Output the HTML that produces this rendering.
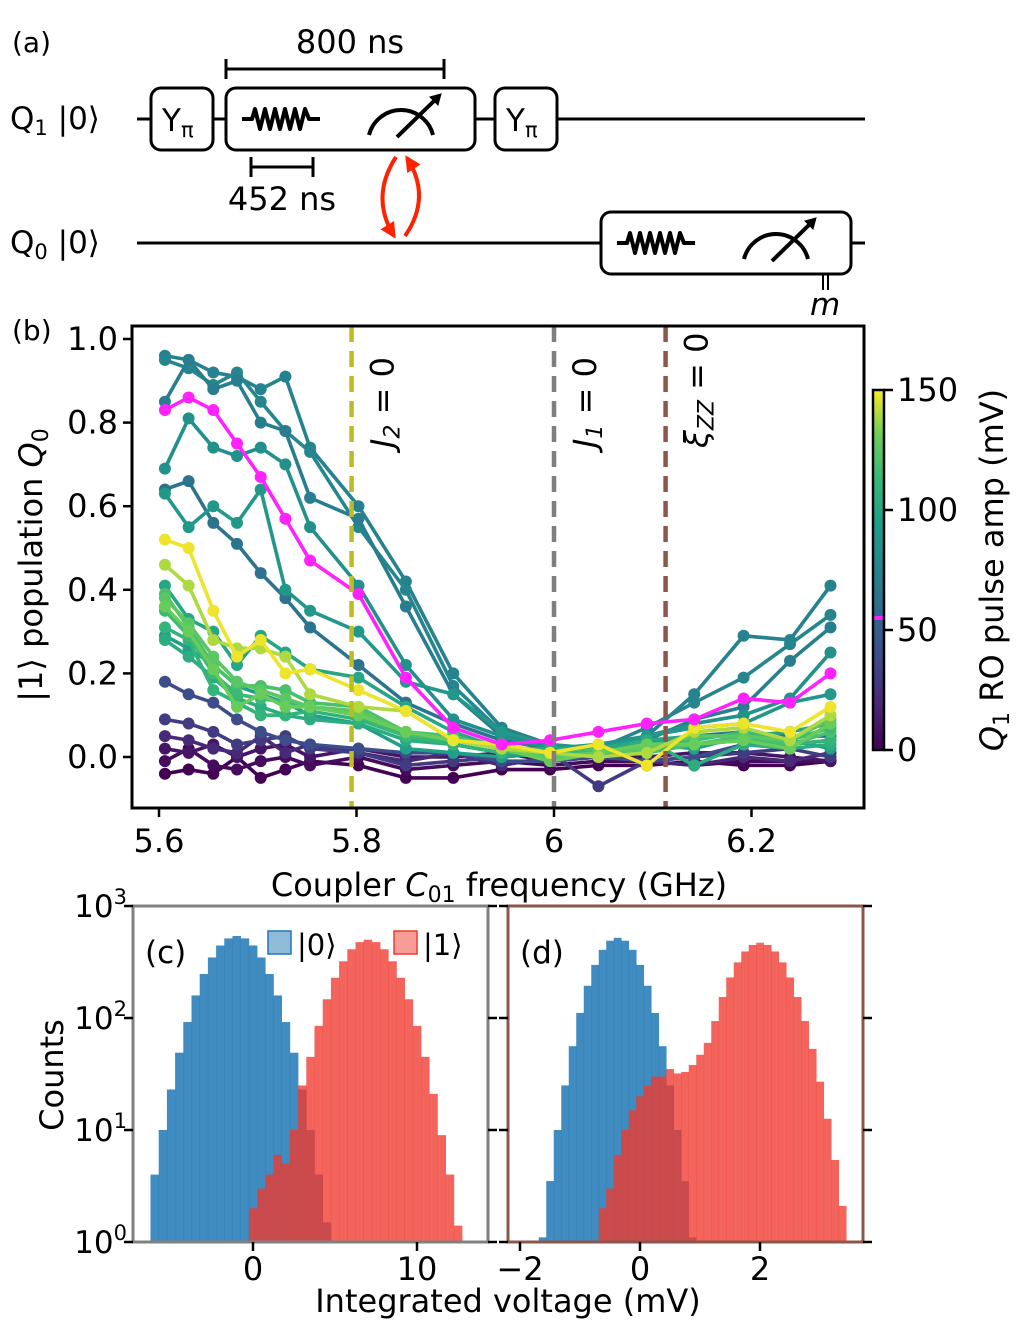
<!DOCTYPE html>
<html><head><meta charset="utf-8"><style>
html,body{margin:0;padding:0;background:#fff;}
svg{display:block;font-family:"DejaVu Sans","Liberation Sans",sans-serif;}
</style></head><body>
<svg id="fig" width="1017" height="1320" viewBox="0 0 1017 1320" xmlns="http://www.w3.org/2000/svg">
<defs>
<linearGradient id="vir" x1="0" y1="1" x2="0" y2="0">
<stop offset="0" stop-color="#440154"/><stop offset="0.13" stop-color="#482878"/><stop offset="0.25" stop-color="#3e4989"/><stop offset="0.38" stop-color="#31688e"/><stop offset="0.5" stop-color="#26828e"/><stop offset="0.63" stop-color="#1f9e89"/><stop offset="0.75" stop-color="#35b779"/><stop offset="0.88" stop-color="#6ece58"/><stop offset="1" stop-color="#fde725"/>
</linearGradient>
<marker id="ah" viewBox="0 0 10 10" refX="8" refY="5" markerWidth="4" markerHeight="4" orient="auto"><path d="M0,0 L10,5 L0,10 z" fill="#ff2200"/></marker>
</defs>

<g stroke="#000" fill="none" stroke-width="3">
<text x="12" y="52" font-size="28" fill="#000" stroke="none">(a)</text>
<text x="10" y="129" font-size="31" fill="#000" stroke="none">Q<tspan font-size="21" dy="6">1</tspan><tspan dy="-6"> |0⟩</tspan></text>
<text x="10" y="253" font-size="31" fill="#000" stroke="none">Q<tspan font-size="21" dy="6">0</tspan><tspan dy="-6"> |0⟩</tspan></text>
<line x1="137" y1="119" x2="865" y2="119"/>
<line x1="137" y1="243" x2="865" y2="243"/>
<rect x="151" y="88" width="62" height="62" rx="10" fill="#fff"/>
<text x="162" y="131" font-size="31" fill="#000" stroke="none">Y<tspan font-size="21" dy="6">π</tspan></text>
<rect x="226" y="88" width="249" height="62" rx="10" fill="#fff"/>
<rect x="495" y="88" width="62" height="62" rx="10" fill="#fff"/>
<text x="506" y="131" font-size="31" fill="#000" stroke="none">Y<tspan font-size="21" dy="6">π</tspan></text>
<rect x="601" y="212" width="250" height="62" rx="10" fill="#fff"/>
<path d="M242,119 H252 L255,109 L260,129 L265,109 L270,129 L275,109 L280,129 L285,109 L290,129 L295,109 L300,129 L305,109 L309,119 H320" stroke-width="4" stroke-linejoin="round"/>
<path d="M617,243 H627 L630,233 L635,253 L640,233 L645,253 L650,233 L655,253 L660,233 L665,253 L670,233 L675,253 L680,233 L684,243 H695" stroke-width="4" stroke-linejoin="round"/>
<path d="M369,135 A33,33 0 0 1 433,135" stroke-width="4"/>
<line x1="397" y1="137" x2="436" y2="99" stroke-width="4"/><path d="M430,97 L441,94 L438,105 z" fill="#000" stroke-width="1"/>
<path d="M744,259 A33,33 0 0 1 808,259" stroke-width="4"/>
<line x1="772" y1="261" x2="811" y2="223" stroke-width="4"/><path d="M805,221 L816,218 L813,229 z" fill="#000" stroke-width="1"/>
<line x1="823" y1="274" x2="823" y2="290" stroke-width="2"/><line x1="828" y1="274" x2="828" y2="290" stroke-width="2"/>
<text x="810" y="315" font-size="31" font-style="italic" fill="#000" stroke="none">m</text>
<line x1="226" y1="69" x2="444" y2="69"/><line x1="226" y1="59" x2="226" y2="79"/><line x1="444" y1="59" x2="444" y2="79"/>
<text x="350" y="53" font-size="32" text-anchor="middle" fill="#000" stroke="none">800 ns</text>
<line x1="251" y1="167" x2="313" y2="167"/><line x1="251" y1="157" x2="251" y2="177"/><line x1="313" y1="157" x2="313" y2="177"/>
<text x="282" y="210" font-size="32" text-anchor="middle" fill="#000" stroke="none">452 ns</text>
<path d="M396,157 Q370,197 394,236" stroke="#ff2200" stroke-width="4" marker-end="url(#ah)"/>
<path d="M405,236 Q432,197 407,158" stroke="#ff2200" stroke-width="4" marker-end="url(#ah)"/>
</g>

<text x="12" y="340" font-size="28">(b)</text>
<g id="pb"></g>
<g id="cb"></g>
<g id="pc"></g>
<g id="pd"></g>
<text x="508" y="1312" font-size="32" text-anchor="middle">Integrated voltage (mV)</text>
<text transform="translate(63,1075) rotate(-90)" font-size="32" text-anchor="middle">Counts</text>
</svg>
<script>
const freqs=[5.606,5.630,5.655,5.679,5.703,5.728,5.753,5.802,5.850,5.898,5.947,5.996,6.045,6.094,6.142,6.192,6.239,6.280];
const amps=[0,5,10,20,30,40,65,75,78,72,85,90,100,95,105,110,120,115,125,130,140,148,55];
const s0=[-0.04,-0.03,-0.04,0.00,-0.05,-0.03,-0.01,-0.02,-0.05,-0.05,-0.03,-0.03,-0.02,-0.02,-0.01,-0.02,-0.02,-0.01];
const s1=[-0.01,0.02,-0.02,-0.03,-0.01,0.00,-0.02,0.00,-0.03,-0.02,-0.01,-0.02,-0.01,-0.01,-0.02,-0.01,-0.01,-0.01];
const s2=[0.02,0.01,0.03,0.00,0.02,0.03,0.00,0.02,0.00,0.00,0.01,-0.01,0.00,0.00,0.01,0.01,0.00,-0.01];
const s3=[0.05,0.04,0.02,0.01,0.05,0.01,0.03,0.01,-0.01,0.01,-0.02,0.00,0.01,-0.01,-0.02,0.00,-0.01,0.01];
const s4=[0.09,0.08,0.06,0.03,0.04,0.05,0.02,0.01,-0.02,-0.01,0.00,0.01,-0.07,-0.01,0.00,0.01,0.02,0.00];
const s5=[0.18,0.15,0.13,0.09,0.06,0.04,0.03,0.02,0.01,0.01,-0.01,-0.01,0.00,-0.01,0.00,0.03,0.03,0.04];
const s6=[0.64,0.66,0.56,0.51,0.44,0.38,0.31,0.22,0.13,0.08,0.04,0.02,0.00,0.03,0.05,0.06,0.05,0.05];
const s7=[0.96,0.95,0.92,0.91,0.88,0.91,0.74,0.60,0.42,0.20,0.07,0.03,0.00,0.05,0.15,0.29,0.28,0.41];
const s8=[0.95,0.93,0.89,0.92,0.85,0.78,0.73,0.55,0.40,0.17,0.06,0.02,0.02,0.07,0.13,0.19,0.27,0.34];
const s9=[0.85,0.95,0.88,0.90,0.80,0.78,0.62,0.57,0.36,0.15,0.05,0.02,0.01,0.04,0.09,0.12,0.23,0.31];
const s10=[0.69,0.81,0.74,0.72,0.74,0.70,0.55,0.41,0.22,0.09,0.05,0.02,0.03,0.05,0.08,0.10,0.14,0.25];
const s11=[0.63,0.55,0.60,0.56,0.64,0.40,0.35,0.30,0.18,0.15,0.06,0.03,0.02,0.05,0.07,0.08,0.13,0.15];
const s12=[0.41,0.33,0.30,0.22,0.29,0.25,0.21,0.19,0.12,0.06,0.02,0.02,0.02,0.04,0.05,0.05,0.06,0.08];
const s13=[0.29,0.26,0.22,0.17,0.15,0.13,0.10,0.08,0.02,0.01,0.00,0.01,0.00,0.03,0.02,0.05,0.04,0.02];
const s14=[0.28,0.24,0.19,0.14,0.12,0.10,0.09,0.08,0.04,0.03,0.01,0.02,0.01,0.04,-0.02,0.03,0.02,0.03];
const s15=[0.31,0.28,0.16,0.13,0.10,0.10,0.11,0.09,0.05,0.03,0.01,0.01,0.00,0.02,0.03,0.04,0.03,0.04];
const s16=[0.39,0.31,0.22,0.17,0.17,0.16,0.13,0.12,0.06,0.05,0.02,0.00,0.02,0.01,0.03,0.05,0.03,0.06];
const s17=[0.35,0.29,0.20,0.15,0.14,0.13,0.12,0.10,0.05,0.04,0.02,0.01,0.01,0.03,0.04,0.06,0.04,0.07];
const s18=[0.38,0.32,0.24,0.18,0.16,0.14,0.12,0.11,0.06,0.04,0.02,0.00,0.01,0.02,0.05,0.05,0.04,0.09];
const s19=[0.36,0.30,0.21,0.12,0.15,0.12,0.12,0.10,0.06,0.04,0.02,-0.01,0.01,0.03,0.03,0.04,0.02,0.08];
const s20=[0.46,0.41,0.28,0.26,0.26,0.24,0.15,0.12,0.11,0.04,0.02,0.01,0.00,0.01,0.06,0.07,0.04,0.10];
const s21=[0.52,0.50,0.35,0.24,0.28,0.20,0.21,0.16,0.11,0.04,0.03,0.01,0.03,-0.02,0.07,0.08,0.06,0.12];
const s22=[0.83,0.86,0.83,0.75,0.67,0.57,0.47,0.39,0.19,0.07,0.03,0.04,0.06,0.08,0.09,0.14,0.13,0.20];
const series=[s0,s1,s2,s3,s4,s5,s6,s7,s8,s9,s10,s11,s12,s13,s14,s15,s16,s17,s18,s19,s20,s21,s22];
const xTicks=[5.6,5.8,6.0,6.2];
const xTickLabels=["5.6","5.8","6","6.2"];
const yTicks=[0,0.2,0.4,0.6,0.8,1.0];
const yTickLabels=["0.0","0.2","0.4","0.6","0.8","1.0"];
const vlines=[5.795,6.0,6.113];
const cbTicks=[0,50,100,150];
const magentaAmp=55;

const cBlueX=[-6.5,-6,-5.5,-5,-4.5,-4,-3.5,-3,-2.5,-2,-1.5,-1,-0.5,0,0.5,1,1.5,2,2.5,3,3.5,4,4.5];
const cBlueN=[1,4,10,23,49,92,159,247,347,444,514,540,514,444,347,247,159,92,49,23,10,4,1.5];
const cRedX=[-0.5,0,0.5,1,1.5,2,2.5,3,3.5,4,4.5,5,5.5,6,6.5,7,7.5,8,8.5,9,9.5,10,10.5,11,11.5,12,12.5,13];
const cRedN=[1,2,3,4,6,5,10,25,45,85,147,229,321,411,476,500,476,411,321,229,147,85,45,21,9,4,1.4,1];
const dBlueX=[-1.75,-1.625,-1.5,-1.375,-1.25,-1.125,-1,-0.875,-0.75,-0.625,-0.5,-0.375,-0.25,-0.125,0,0.125,0.25,0.375,0.5,0.625,0.75,0.875,1.0];
const dBlueN=[1,1.1,3.5,10,25,56,111,194,298,406,490,520,490,406,298,194,111,56,25,10,3.5,1.1,1];
const dRedX=[-0.625,-0.5,-0.375,-0.25,-0.125,0,0.125,0.25,0.375,0.5,0.625,0.75,0.875,1.0,1.125,1.25,1.375,1.5,1.625,1.75,1.875,2,2.125,2.25,2.375,2.5,2.625,2.75,2.875,3,3.125,3.25,3.375];
const dRedN=[2,3,6,10,15,20,25,30,30,35,32,33,38,47,60,94,154,230,314,393,449,470,449,393,314,230,154,94,53,27,12.6,5.4,2.1];
const cXTicks=[0,10];
const dXTicks=[-2,0,2];
const logTicks=[0,1,2,3];

const NS="http://www.w3.org/2000/svg";
function el(tag,attrs,parent,txt){const e=document.createElementNS(NS,tag);for(const k in attrs)e.setAttribute(k,attrs[k]);if(txt!==undefined)e.textContent=txt;parent.appendChild(e);return e;}
const vstops=[[0,[68,1,84]],[0.13,[72,40,120]],[0.25,[62,73,137]],[0.38,[49,104,142]],[0.5,[38,130,142]],[0.63,[31,158,137]],[0.75,[53,183,121]],[0.88,[110,206,88]],[1,[253,231,37]]];
function viridis(t){t=Math.max(0,Math.min(1,t));for(let i=1;i<vstops.length;i++){if(t<=vstops[i][0]){const a=vstops[i-1],b=vstops[i];const f=(t-a[0])/(b[0]-a[0]);const c=a[1].map((v,j)=>Math.round(v+(b[1][j]-v)*f));return `rgb(${c[0]},${c[1]},${c[2]})`;}}return 'rgb(253,231,37)';}

const B={l:132,r:864,t:326,b:808};
const bx=f=>159+(f-5.6)*987.5;
const by=v=>757-v*418;
const pb=document.getElementById('pb');
series.forEach((s,i)=>{
  const col=amps[i]===magentaAmp?'#ff22ff':viridis(amps[i]/150);
  const g=el('g',{},pb);
  
  
  el('polyline',{points:s.map((v,j)=>bx(freqs[j])+','+by(v)).join(' '),fill:'none',stroke:col,'stroke-width':3.6,'stroke-linejoin':'round'},g);
  s.forEach((v,j)=>{el('circle',{cx:bx(freqs[j]),cy:by(v),r:6,fill:col},g);});
});
const vcols=['#bcbd22','#7f7f7f','#8c564b'];
vlines.forEach((f,i)=>{
  const l=el('line',{x1:bx(f),x2:bx(f),y1:B.t,y2:B.b,stroke:vcols[i],'stroke-width':4.5,'stroke-dasharray':'16,9'},pb);
  
  
});
[['J','2',bx(vlines[0])+42],['J','1',bx(vlines[1])+42],['ξ','ZZ',bx(vlines[2])+42]].forEach((d,i)=>{
  const t=el('text',{transform:`translate(${d[2]},${448}) rotate(-90)`,'font-size':32},pb);
  
  
  el('tspan',{'font-style':'italic'},t,d[0]);
  el('tspan',{'font-size':22,dy:6,'font-style':'italic'},t,d[1]);
  el('tspan',{dy:-6},t,' = 0');
});
const fr=el('rect',{x:B.l,y:B.t,width:B.r-B.l,height:B.b-B.t,fill:'none',stroke:'#000','stroke-width':3},pb);


xTicks.forEach((v,i)=>{el('line',{x1:bx(v),x2:bx(v),y1:B.b,y2:B.b+9,stroke:'#000','stroke-width':2.5},pb);
  const t=el('text',{x:bx(v),y:B.b+44,'font-size':32,'text-anchor':'middle'},pb,xTickLabels[i]);
  
  });
yTicks.forEach((v,i)=>{el('line',{x1:B.l-9,x2:B.l,y1:by(v),y2:by(v),stroke:'#000','stroke-width':2.5},pb);
  const t=el('text',{x:B.l-14,y:by(v)+11,'font-size':32,'text-anchor':'end'},pb,yTickLabels[i]);
  
  });
const xt=el('text',{x:499,y:896,'font-size':32,'text-anchor':'middle'},pb);


xt.appendChild(document.createTextNode('Coupler '));el('tspan',{'font-style':'italic'},xt,'C');el('tspan',{'font-size':22,dy:6},xt,'01');el('tspan',{dy:-6},xt,' frequency (GHz)');
const yt=el('text',{transform:'translate(42,565) rotate(-90)','font-size':32,'text-anchor':'middle'},pb);


yt.appendChild(document.createTextNode('|1⟩ population '));el('tspan',{'font-style':'italic'},yt,'Q');el('tspan',{'font-size':22,dy:6},yt,'0');

const cb=document.getElementById('cb');
const cy=v=>750-v*2.4;
el('rect',{x:873,y:390,width:11,height:360,fill:'url(#vir)'},cb);
el('line',{x1:873,x2:884,y1:cy(magentaAmp),y2:cy(magentaAmp),stroke:'#ff22ff','stroke-width':4},cb);
el('rect',{x:873,y:390,width:11,height:360,fill:'none',stroke:'#000','stroke-width':2.5},cb);
cbTicks.forEach(v=>{el('line',{x1:884,x2:893,y1:cy(v),y2:cy(v),stroke:'#000','stroke-width':2.5},cb);
  const t=el('text',{x:897,y:cy(v)+11,'font-size':32},cb,String(v));
  
  });
const ct=el('text',{transform:'translate(1003,570) rotate(-90)','font-size':32,'text-anchor':'middle'},cb);


el('tspan',{'font-style':'italic'},ct,'Q');el('tspan',{'font-size':22,dy:6},ct,'1');el('tspan',{dy:-6},ct,' RO pulse amp (mV)');

function hist(gid,box,bw,xmap,data,frameCol,xticks,label,legend){
  const g=document.getElementById(gid);
  const ly=n=>box.b-Math.log10(Math.max(n,1))*112;
  const clip=el('clipPath',{id:gid+'clip'},g);el('rect',{x:box.l,y:box.t,width:box.r-box.l,height:box.b-box.t},clip);
  const hg=el('g',{'clip-path':`url(#${gid}clip)`},g);
  data.forEach(d=>{
    d.x.forEach((x,i)=>{
      const r=el('rect',{x:xmap(x-bw/2),y:ly(d.n[i]),width:xmap(x+bw/2)-xmap(x-bw/2)+0.3,height:box.b-ly(d.n[i]),fill:d.c,'fill-opacity':d.o},hg);
      
      
    });
  });
  const f=el('rect',{x:box.l,y:box.t,width:box.r-box.l,height:box.b-box.t,fill:'none',stroke:frameCol,'stroke-width':3},g);
  
  
  xticks.forEach(v=>{el('line',{x1:xmap(v),x2:xmap(v),y1:box.b,y2:box.b+9,stroke:'#000','stroke-width':2.5},g);
    const t=el('text',{x:xmap(v),y:box.b+38,'font-size':32,'text-anchor':'middle'},g,v<0?'−'+(-v):String(v));
    
    });
  logTicks.forEach(p=>{const y=box.b-p*112;
    el('line',{x1:box.l-9,x2:box.l,y1:y,y2:y,stroke:'#000','stroke-width':2.5},g);
    el('line',{x1:box.r,x2:box.r+9,y1:y,y2:y,stroke:'#000','stroke-width':2.5},g);
    if(gid==='pc'){const t=el('text',{x:box.l-6,y:y+11,'font-size':31,'text-anchor':'end'},g);
      
      
      t.appendChild(document.createTextNode('10'));el('tspan',{'font-size':21,dy:-13},t,String(p));}
  });
  const lt=el('text',{x:box.l+12,y:box.t+57,'font-size':31},g,label);
  
  
  if(legend){
    [['#1f77b4','|0⟩',268],['#f03a2e','|1⟩',394]].forEach(d=>{
      const r=el('rect',{x:d[2],y:931,width:23,height:23,fill:d[0],'fill-opacity':0.5,stroke:d[0],'stroke-width':1.5},g);
      
      
      const t=el('text',{x:d[2]+29,y:955,'font-size':29},g,d[1]);
      
      
    });
  }
}
hist('pc',{l:133,r:488,t:906,b:1242},0.5,x=>253+x*16.4,
  [{x:cBlueX,n:cBlueN,c:'#1f77b4',o:0.85,name:'c-state0'},{x:cRedX,n:cRedN,c:'#f03a2e',o:0.78,name:'c-state1'}],
  '#808080',cXTicks,'(c)',true);
hist('pd',{l:508,r:863,t:906,b:1242},0.125,x=>640+x*60,
  [{x:dBlueX,n:dBlueN,c:'#1f77b4',o:0.85,name:'d-state0'},{x:dRedX,n:dRedN,c:'#f03a2e',o:0.78,name:'d-state1'}],
  '#8c564b',dXTicks,'(d)',false);
</script>
</body></html>
